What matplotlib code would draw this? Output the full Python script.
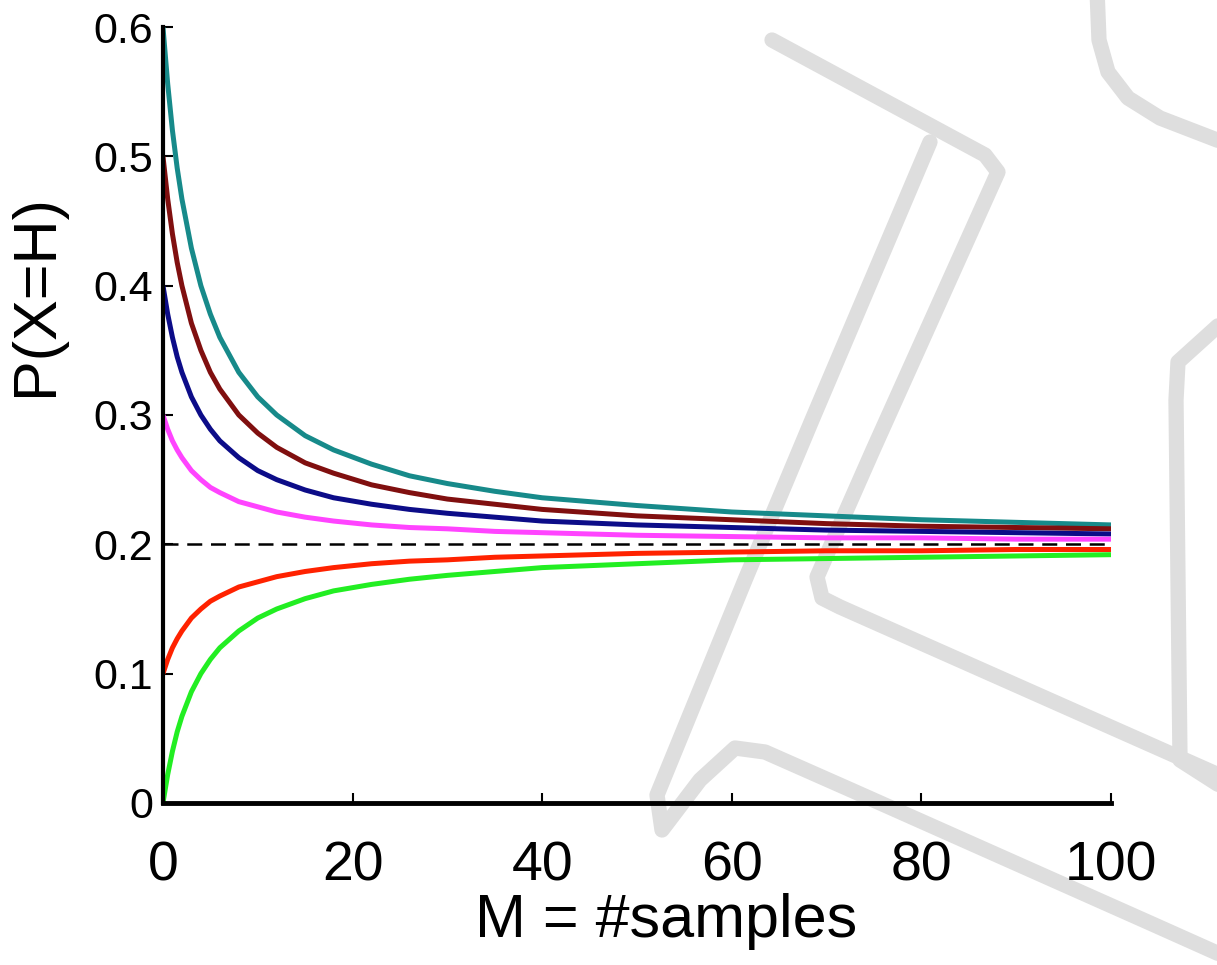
import matplotlib
matplotlib.use("Agg")
import matplotlib.pyplot as plt
from matplotlib.lines import Line2D

# Number of observed samples M
samples = [0, 0.5, 1, 1.5, 2, 3, 4, 5, 6, 8, 10, 12, 15, 18, 22, 26, 30, 35,
           40, 50, 60, 70, 80, 90, 100]

# Estimated P(X=H) after M samples, one curve per prior
p_teal = [0.600, 0.556, 0.520, 0.491, 0.467, 0.429, 0.400, 0.378, 0.360, 0.333,
          0.314, 0.300, 0.284, 0.273, 0.262, 0.253, 0.247, 0.241, 0.236, 0.230,
          0.225, 0.222, 0.219, 0.217, 0.215]
p_brown = [0.500, 0.467, 0.440, 0.418, 0.400, 0.371, 0.350, 0.333, 0.320, 0.300,
           0.286, 0.275, 0.263, 0.255, 0.246, 0.240, 0.235, 0.231, 0.227, 0.222,
           0.219, 0.216, 0.214, 0.213, 0.212]
p_blue = [0.400, 0.378, 0.360, 0.345, 0.333, 0.314, 0.300, 0.289, 0.280, 0.267,
          0.257, 0.250, 0.242, 0.236, 0.231, 0.227, 0.224, 0.221, 0.218, 0.215,
          0.213, 0.211, 0.210, 0.209, 0.208]
p_magenta = [0.300, 0.289, 0.280, 0.273, 0.267, 0.257, 0.250, 0.244, 0.240, 0.233,
             0.229, 0.225, 0.221, 0.218, 0.215, 0.213, 0.212, 0.210, 0.209, 0.207,
             0.206, 0.205, 0.205, 0.204, 0.204]
p_red = [0.100, 0.111, 0.120, 0.127, 0.133, 0.143, 0.150, 0.156, 0.160, 0.167,
         0.171, 0.175, 0.179, 0.182, 0.185, 0.187, 0.188, 0.190, 0.191, 0.193,
         0.194, 0.195, 0.195, 0.196, 0.196]
p_green = [0.000, 0.022, 0.040, 0.055, 0.067, 0.086, 0.100, 0.111, 0.120, 0.133,
           0.143, 0.150, 0.158, 0.164, 0.169, 0.173, 0.176, 0.179, 0.182, 0.185,
           0.188, 0.189, 0.190, 0.191, 0.192]

true_value = 0.2
x_ticks = [0, 20, 40, 60, 80, 100]
y_ticks = [0, 0.1, 0.2, 0.3, 0.4, 0.5, 0.6]
y_tick_labels = ["0", "0.1", "0.2", "0.3", "0.4", "0.5", "0.6"]

# Outline strokes of the background logo, in pixels from the top-left corner
logo_strokes = [
    [(1097, -10), (1099, 40), (1108, 72), (1128, 98), (1160, 118), (1230, 145)],
    [(930, 142), (812, 420), (745, 580), (657, 795), (662, 830), (700, 780),
     (735, 748), (765, 752), (851, 790), (1150, 923), (1235, 961)],
    [(772, 40), (985, 155), (998, 172), (873, 450), (817, 577), (822, 598),
     (840, 607), (1230, 780)],
    [(1230, 315), (1178, 362), (1176, 400), (1180, 760), (1230, 792)],
]

plt.rcParams['font.family'] = ['Liberation Sans', 'DejaVu Sans']

W, H = 1217, 965
fig = plt.figure(figsize=(W / 100, H / 100), dpi=100)

for stroke in logo_strokes:
    xs = [p[0] / W for p in stroke]
    ys = [1 - p[1] / H for p in stroke]
    fig.add_artist(Line2D(xs, ys, transform=fig.transFigure, color='#dedede',
                          lw=11, solid_joinstyle='round',
                          solid_capstyle='round', zorder=-5))

ax = fig.add_axes([0.1339, 0.1679, 0.7790, 0.8041])
ax.set_facecolor('none')

ax.axhline(true_value, color='black', lw=1.8, ls=(0, (6, 3.5)), zorder=1)

series = [
    (p_teal, '#178a8a'),
    (p_brown, '#800f0f'),
    (p_blue, '#0c0c88'),
    (p_magenta, '#ff44ff'),
    (p_red, '#ff2200'),
    (p_green, '#22ee22'),
]
for values, color in series:
    ax.plot(samples, values, color=color, lw=3.6, solid_capstyle='butt',
            zorder=2)

ax.set_xlim(0, 100)
ax.set_ylim(0, 0.6)
ax.set_xticks(x_ticks)
ax.set_xticklabels([str(t) for t in x_ticks])
ax.set_yticks(y_ticks)
ax.set_yticklabels(y_tick_labels)

for side in ('top', 'right'):
    ax.spines[side].set_visible(False)
ax.spines['left'].set_linewidth(3.0)
ax.spines['bottom'].set_linewidth(3.5)

ax.tick_params(axis='both', direction='in', length=7, width=1.5,
               colors='black')
ax.tick_params(axis='x', labelsize=40, pad=27)
ax.tick_params(axis='y', labelsize=31, pad=7)

ax.set_xlabel('M = #samples', fontsize=44)
ax.xaxis.set_label_coords(0.531, -0.116)
ax.set_ylabel('P(X=H)', fontsize=44)
ax.yaxis.set_label_coords(-0.103, 0.655)

fig.savefig('out.png', dpi=100)
